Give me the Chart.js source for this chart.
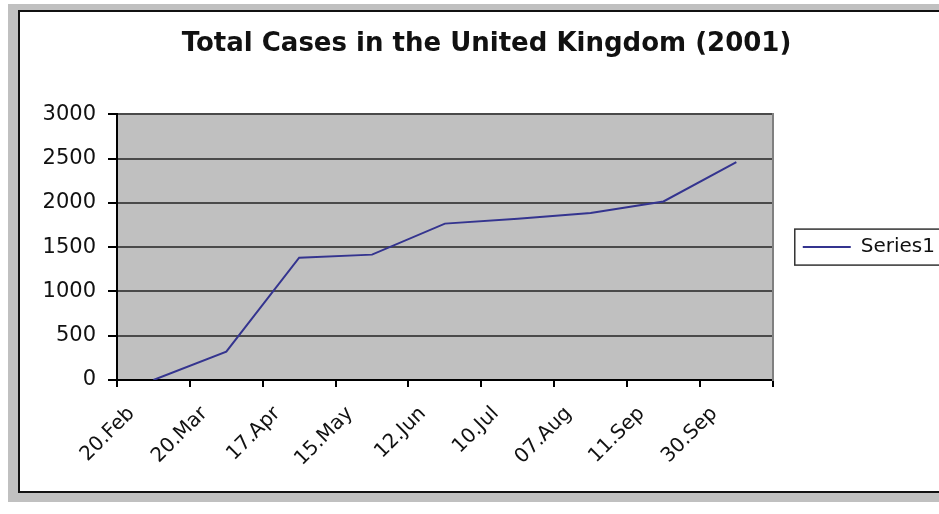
<!DOCTYPE html>
<html>
<head>
<meta charset="utf-8">
<script src="https://cdn.jsdelivr.net/npm/chart.js@4.4.1/dist/chart.umd.min.js"></script>
<style>
  html, body { margin: 0; padding: 0; background: #fff; width: 939px; height: 514px; overflow: hidden; }
  #shadow { position: absolute; left: 8px; top: 4px; width: 1100px; height: 498px; background: #c0c0c0; }
  #frame { position: absolute; left: 18px; top: 10px; width: 1100px; height: 479px; border: 2px solid #111; background: #fff; }
  #wrap { position: absolute; left: 0; top: 0; width: 1000px; height: 514px; }
</style>
</head>
<body>
<div id="shadow"></div>
<div id="frame"></div>
<div id="wrap"><canvas id="mychart" width="1000" height="514"></canvas></div>
<script>
// dates on the x axis
var dates = ["20.Feb", "20.Mar", "17.Apr", "15.May", "12.Jun", "10.Jul", "07.Aug", "11.Sep", "30.Sep"];
// total cases
var totalCases = [0, 320, 1380, 1415, 1765, 1820, 1885, 2015, 2460];
var yTicks = [0, 500, 1000, 1500, 2000, 2500, 3000];

var fontFam = "'DejaVu Sans', sans-serif";

// grey plot area + box round the legend
var excelLook = {
    id: "excelLook",
    beforeDraw: function (chart) {
        var a = chart.chartArea, ctx = chart.ctx;
        ctx.save();
        ctx.fillStyle = "#c0c0c0";
        ctx.fillRect(a.left, a.top, a.right - a.left, a.bottom - a.top);
        ctx.restore();
    },
    afterDraw: function (chart) {
        var lg = chart.legend, ctx = chart.ctx;
        if (!lg || !lg.legendHitBoxes.length) return;
        var hb = lg.legendHitBoxes[0];
        var cy = hb.top + hb.height / 2;
        ctx.save();
        ctx.strokeStyle = "#333";
        ctx.lineWidth = 1.5;
        ctx.strokeRect(hb.left - 8, cy - 18, 400, 36);
        ctx.restore();
    }
};

var canvas = document.getElementById("mychart");
var mychart = new Chart(canvas, {
    type: "line",
    data: {
        labels: dates,
        datasets: [{
            label: "Series1",
            data: totalCases,
            borderColor: "#34348f",
            backgroundColor: "#34348f",
            borderWidth: 2,
            pointRadius: 0,
            tension: 0,
            fill: false
        }]
    },
    options: {
        responsive: false,
        animation: false,
        layout: { padding: { left: 28, right: 55, top: 0, bottom: 0 } },
        plugins: {
            title: {
                display: true,
                text: "Total Cases in the United Kingdom (2001)",
                color: "#111",
                font: { family: fontFam, size: 26, weight: "bold" },
                padding: { top: 29, bottom: 54 }
            },
            legend: {
                display: true,
                position: "right",
                fullSize: false,
                labels: {
                    usePointStyle: true,
                    pointStyle: "line",
                    pointStyleWidth: 48,
                    color: "#111",
                    font: { family: fontFam, size: 20 },
                    padding: 10
                }
            },
            tooltip: { enabled: false }
        },
        scales: {
            x: {
                offset: true,
                grid: { offset: true, drawOnChartArea: false, drawTicks: true, tickLength: 7, tickColor: "#000", lineWidth: 2 },
                border: { color: "#000", width: 2 },
                ticks: {
                    minRotation: 45, maxRotation: 45, color: "#111",
                    font: { family: fontFam, size: 20 }, padding: 15, labelOffset: -22
                },
                afterFit: function (s) { s.height = 134; }
            },
            y: {
                min: 0, max: 3000,
                afterBuildTicks: function (s) { s.ticks = yTicks.map(function (v) { return { value: v }; }); },
                grid: { color: "#4a4a4a", lineWidth: 2, tickLength: 9, tickColor: "#000" },
                border: { color: "#000", width: 2 },
                ticks: {
                    color: "#111", font: { family: fontFam, size: 21 }, padding: 12,
                    callback: function (v) { return String(v); }
                },
                afterFit: function (s) { s.width = 117 - 28; }
            },
            yRight: {
                position: "right",
                min: 0, max: 3000,
                grid: { drawOnChartArea: false, drawTicks: false },
                border: { color: "#808080", width: 2 },
                ticks: { display: false },
                afterFit: function (s) { s.width = 20; }
            }
        }
    },
    plugins: [excelLook]
});
</script>
</body>
</html>
